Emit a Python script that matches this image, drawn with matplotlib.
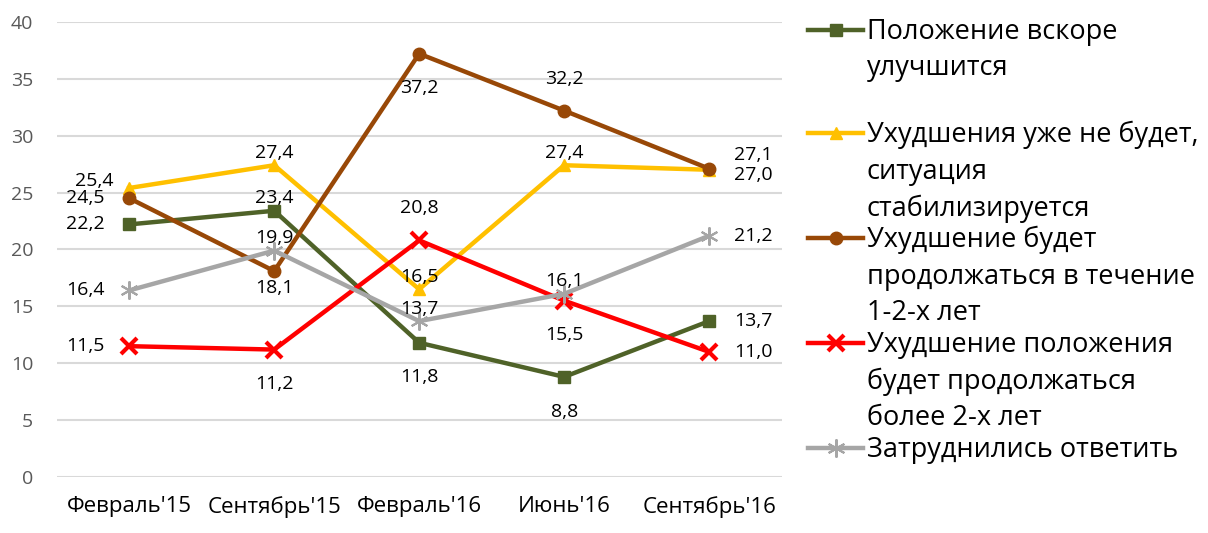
import matplotlib
matplotlib.use("Agg")
import matplotlib.pyplot as plt
from matplotlib.lines import Line2D

# data
months = ["Февраль'15", "Сентябрь'15", "Февраль'16", "Июнь'16", "Сентябрь'16"]

soon_better = [22.2, 23.4, 11.8, 8.8, 13.7]
no_worse = [25.4, 27.4, 16.5, 27.4, 27.0]
worse_1_2 = [24.5, 18.1, 37.2, 32.2, 27.1]
worse_2plus = [11.5, 11.2, 20.8, 15.5, 11.0]
no_answer = [16.4, 19.9, 13.7, 16.1, 21.2]

names = [
    "Положение вскоре\nулучшится",
    "Ухудшения уже не будет,\nситуация\nстабилизируется",
    "Ухудшение будет\nпродолжаться в течение\n1-2-х лет",
    "Ухудшение положения\nбудет продолжаться\nболее 2-х лет",
    "Затруднились ответить",
]

plt.rcParams['font.family'] = ['Open Sans', 'DejaVu Sans']

# style for each series: color, marker, size, label placement
styles = [
    dict(color="#4F6228", marker="s", ms=8, mew=1, lab=["l", "t", "b", "b", "r"]),
    dict(color="#FFC000", marker="^", ms=9, mew=1, lab=["tl", "t", "t", "t", "rd"]),
    dict(color="#984807", marker="o", ms=9, mew=1, lab=["l", "bn", "b", "tt", "ru"]),
    dict(color="#FF0000", marker="x", ms=11, mew=3, lab=["l", "b", "tt", "b", "r"]),
    dict(color="#A6A6A6", marker=(6, 2, 0), ms=13, mew=1.5, lab=["l", "t", "t", "t", "r"]),
]
series = [soon_better, no_worse, worse_1_2, worse_2plus, no_answer]

# label offsets in points (dx, dy, ha)
offs = {"l": (-18, 0, "right"), "r": (18, 0, "left"),
        "ru": (18, 10, "left"), "rd": (18, -4, "left"),
        "t": (0, 9, "center"), "tt": (0, 23, "center"),
        "b": (0, -25, "center"), "bn": (0, -12, "center"),
        "tl": (-11, 5, "right")}

fig = plt.figure(figsize=(12.08, 5.33), dpi=100)
ax = fig.add_axes([0.047, 0.105, 0.6, 0.854])

x = list(range(len(months)))
for vals, st in zip(series, styles):
    ax.plot(x, vals, color=st["color"], lw=3.2, marker=st["marker"], ms=st["ms"],
            mew=st["mew"], mec=st["color"], mfc=st["color"], zorder=3)
    for xi, v, pos in zip(x, vals, st["lab"]):
        dx, dy, ha = offs[pos]
        ax.annotate(f"{v:.1f}".replace(".", ","), (xi, v), xytext=(dx, dy),
                    textcoords="offset points", ha=ha, va="center", fontsize=14,
                    color="black", zorder=4)

ax.set_xlim(-0.5, 4.5)
ax.set_ylim(0, 40)
ax.set_yticks(range(0, 41, 5))
ax.set_xticks(x)
ax.set_xticklabels(months)
ax.grid(axis="y", color="#D9D9D9", lw=1.5)
ax.set_axisbelow(True)
for s in ax.spines.values():
    s.set_visible(False)
ax.tick_params(length=0, labelsize=14, labelcolor="#595959")
ax.tick_params(axis="x", labelcolor="black", labelsize=16, pad=14)
ax.tick_params(axis="y", pad=17)

# legend drawn by hand so markers sit on the first line of each label
leg_y = [30, 133, 238, 343, 448]
for name, st, yp in zip(names, styles, leg_y):
    yf = 1 - yp / 533
    fig.add_artist(Line2D([808 / 1208, 863 / 1208], [yf, yf], transform=fig.transFigure,
                          color=st["color"], lw=3.2))
    fig.add_artist(Line2D([835.5 / 1208], [yf], transform=fig.transFigure,
                          color=st["color"], marker=st["marker"], ms=st["ms"],
                          mew=st["mew"], mec=st["color"], mfc=st["color"]))
    fig.text(867 / 1208, yf + 12 / 533, name, ha="left", va="top", fontsize=19.5,
             linespacing=1.4)

fig.savefig("out.png", dpi=100)
